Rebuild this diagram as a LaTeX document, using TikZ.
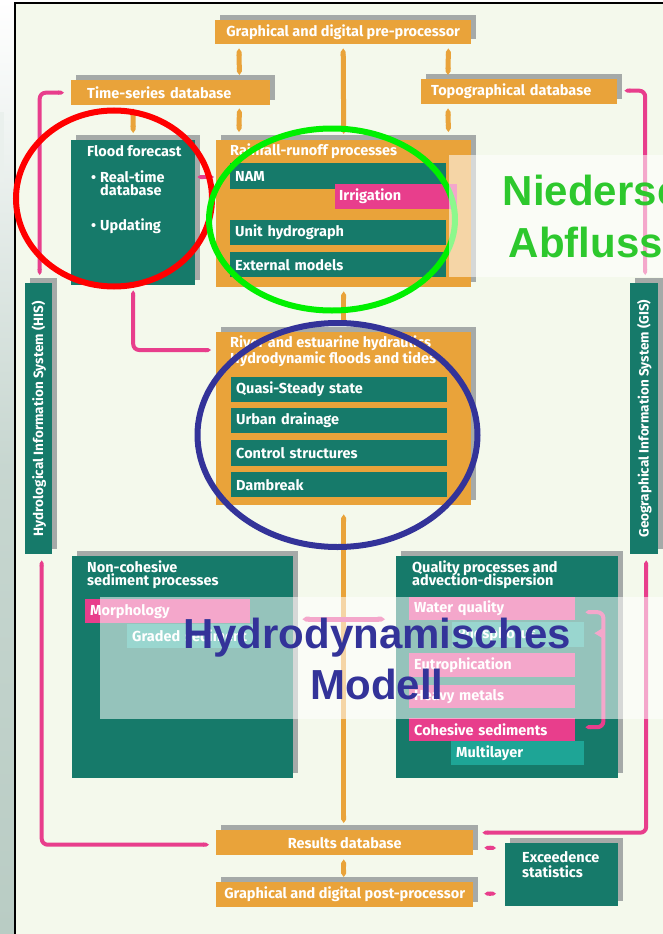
\documentclass[tikz,border=0pt]{standalone}
\usepackage{fontspec}
\setsansfont{Fira Sans}
\newfontfamily\overlayfont{Liberation Sans}
\usepackage{xcolor}
\usepackage{tikz}
\usetikzlibrary{positioning,calc,shadows,arrows.meta}

\definecolor{boxorange}{RGB}{233,163,58}
\definecolor{boxteal}{RGB}{22,122,106}
\definecolor{lightteal}{RGB}{30,165,150}
\definecolor{hotpink}{RGB}{232,62,140}
\definecolor{shadowgray}{RGB}{165,170,168}
\definecolor{paper}{RGB}{244,249,236}
\definecolor{stripgray}{RGB}{185,204,196}
\definecolor{ringblue}{RGB}{51,51,153}
\definecolor{ringgreen}{RGB}{0,240,0}
\definecolor{labelgreen}{RGB}{45,200,45}

\newcommand{\boxtext}{\sffamily\bfseries\fontsize{14.5}{15}\selectfont}
\newcommand{\bartext}{\sffamily\bfseries\fontsize{13.5}{14}\selectfont}
\newcommand{\bigtext}{\overlayfont\bfseries\fontsize{42}{51}\selectfont}

\tikzset{
	mainbox/.style={rectangle, anchor=north west, inner sep=0pt, text=white, font=\boxtext,
		general shadow={fill=shadowgray, shadow xshift=5pt, shadow yshift=5pt}},
	orangebox/.style={mainbox, fill=boxorange},
	tealbox/.style={mainbox, fill=boxteal},
	subbox/.style={rectangle, anchor=north west, inner xsep=5pt, inner ysep=0pt, text width=206pt,
		minimum height=25pt, align=left, text=white, font=\boxtext, fill=boxteal},
	pinkbox/.style={subbox, fill=hotpink},
	tintbox/.style={subbox, fill=lightteal},
	boxlabel/.style={anchor=base west, inner sep=0pt, text=white, font=\boxtext},
	orangelink/.style={draw=boxorange, line width=5pt, {Triangle Cap[cap angle=70]}-{Triangle Cap[cap angle=70]}},
	pinklink/.style={draw=hotpink, line width=4pt, rounded corners=6pt, {Triangle Cap[cap angle=70]}-{Triangle Cap[cap angle=70]}},
	ring/.style={line width=6pt},
	veil/.style={fill=white, opacity=0.55},
}

\begin{document}
\begin{tikzpicture}[x=1pt, y=-1pt]
	\useasboundingbox (0,0) rectangle (663,934);
	\clip (0,0) rectangle (663,934);
	\shade[top color=white, bottom color=stripgray, middle color=stripgray!80] (0,0) rectangle (15,934);
	\fill[white!70!stripgray] (0,112) rectangle (4,182);
	\draw[fill=paper, line width=2pt] (15,3) rectangle (720,960);

	\node[orangebox, minimum width=256pt, minimum height=24pt] (pre) at (215,20) {Graphical and digital pre-processor};
	\node[orangebox, minimum height=25pt, inner xsep=16pt, text width=167pt, align=left] (tsdb) at (71,80) {Time-series database};
	\node[orangebox, minimum height=25pt, inner xsep=10pt, text width=176pt, align=left] (topo) at (421,79) {Topographical database};
	\node[tealbox, minimum width=124pt, minimum height=145pt] (flood) at (71,140) {};
	\node[orangebox, minimum width=255pt, minimum height=147pt] (rain) at (216,140) {};
	\node[tealbox, minimum width=27pt, minimum height=271pt] (his) at (25,283) {};
	\node[tealbox, minimum width=28pt, minimum height=271pt] (gis) at (630,283) {};
	\node[orangebox, minimum width=255pt, minimum height=173pt] (river) at (216,332) {};
	\node[tealbox, minimum width=221pt, minimum height=222pt] (noncoh) at (72,556) {};
	\node[tealbox, minimum width=222pt, minimum height=222pt] (quality) at (396,556) {};
	\node[orangebox, minimum width=257pt, minimum height=25pt] (results) at (216,830) {Results database};
	\node[orangebox, minimum width=257pt, minimum height=25pt] (post) at (216,882) {Graphical and digital post-processor};
	\node[tealbox, minimum width=113pt, minimum height=63pt] (exceed) at (505,843) {};

	\draw[orangelink] ($(pre.south west)+(24,4)$) -- ($(tsdb.north east)+(-31,-5)$);
	\draw[orangelink] ($(pre.south east)+(-23,4)$) -- ($(topo.north west)+(27,-4)$);
	\draw[orangelink] ($(pre.south)+(0,4)$) -- ($(rain.north)+(0,-6)$);
	\draw[orangelink] ($(tsdb.south east)+(-31,3)$) -- ($(rain.north west)+(23,-8)$);
	\draw[orangelink] ($(topo.south west)+(27,4)$) -- ($(rain.north east)+(-23,-8)$);
	\draw[orangelink] ($(tsdb.south west)+(62,3)$) -- ($(flood.north)+(0,-7)$);
	\draw[orangelink] ($(rain.south)+(0,4)$) -- ($(river.north)+(0,-6)$);
	\draw[orangelink] ($(river.south)+(0,9)$) -- ($(results.north)+(-1,-7)$);
	\draw[orangelink] ($(results.south)+(-1,4)$) -- ($(post.north)+(-1,-5)$);

	\draw[pinklink] ($(tsdb.west)+(-7,0)$) -| ($(his.north)+(1,-8)$);
	\draw[pinklink] ($(topo.east)+(7,-1)$) -| ($(gis.north)+(1,-8)$);
	\draw[pinklink] ($(his.south)+(3,6)$) |- ($(results.west)+(-7,2)$);
	\draw[pinklink] ($(gis.south)+(2,6)$) |- ($(results.east)+(9,-10)$);
	\draw[pinklink] ($(flood.south)+(0,5)$) |- ($(river.north west)+(-5,18)$);
	\draw[pinklink] ($(flood.north east)+(2,37)$) -- ($(rain.north west)+(-2,37)$);
	\draw[pinklink] ($(results.east)+(11,5)$) -- ($(exceed.north west)+(-9,5)$);
	\draw[pinklink] ($(post.east)+(11,-1)$) -- ($(exceed.west |- post.east)+(-9,-1)$);
	\draw[pinklink, line width=5pt] ($(noncoh.east)+(9,-48)$) -- ($(quality.west)+(-11,-48)$);

	\node[boxlabel] (floodtitle) at ($(flood.north west)+(16,16)$) {Flood forecast};
	\node[boxlabel] (realtime) at ($(flood.north west)+(20,42)$) {\makebox[9pt][l]{\textbullet}Real-time};
	\node[boxlabel] (realtimedb) at ($(flood.north west)+(29,55)$) {database};
	\node[boxlabel] (updating) at ($(flood.north west)+(20,90)$) {\makebox[9pt][l]{\textbullet}Updating};

	\node[boxlabel] (raintitle) at ($(rain.north west)+(14,15)$) {Rainfall-runoff processes};
	\node[subbox, minimum height=26pt] (nam) at (230,163) {NAM};
	\node[pinkbox, inner xsep=4pt, text width=114pt] (irrig) at (335,184) {Irrigation};
	\node[subbox] (unit) at (230,220) {Unit hydrograph};
	\node[subbox] (extmod) at (230,252) {External models};

	\node[boxlabel, font=\bartext, anchor=center, rotate=90] (histext) at (his.center) {Hydrological Information System (HIS)};
	\node[boxlabel, font=\bartext, anchor=center, rotate=90] (gistext) at (gis.center) {Geographical Information System (GIS)};

	\node[boxlabel] (rivertitle) at ($(river.north west)+(14,15)$) {River and estuarine hydraulics};
	\node[boxlabel] (rivertitleb) at ($(river.north west)+(14,31)$) {Hydrodynamic floods and tides};
	\node[subbox] (quasi) at (231,377) {Quasi-Steady state};
	\node[subbox] (urban) at (231,408) {Urban drainage};
	\node[subbox, minimum height=26pt] (control) at (231,440) {Control structures};
	\node[subbox] (dambreak) at (231,472) {Dambreak};

	\node[boxlabel] (noncohtitle) at ($(noncoh.north west)+(15,16)$) {Non-cohesive};
	\node[boxlabel] (noncohtitleb) at ($(noncoh.north west)+(15,29)$) {sediment processes};
	\node[pinkbox, minimum height=24pt, text width=155pt] (morph) at (85,599) {Morphology};
	\node[tintbox, minimum height=24pt, text width=116pt] (graded) at (127,624) {Graded sediment};

	\node[boxlabel] (qualtitle) at ($(quality.north west)+(16,16)$) {Quality processes and};
	\node[boxlabel] (qualtitleb) at ($(quality.north west)+(16,29)$) {advection-dispersion};
	\node[pinkbox, minimum height=23pt, text width=156pt] (wq) at (409,597) {Water quality};
	\node[tintbox, text width=122pt] (phos) at (452,622) {Phosphorus};
	\node[pinkbox, minimum height=24pt, text width=156pt] (eutro) at (409,653) {Eutrophication};
	\node[pinkbox, minimum height=23pt, text width=156pt] (heavy) at (409,685) {Heavy metals};
	\node[pinkbox, minimum height=23pt, text width=156pt] (cohes) at (409,718) {Cohesive sediments};
	\node[tintbox, minimum height=24pt, text width=123pt] (multi) at (451,741) {Multilayer};
	\draw[pinklink] ($(wq.east)+(10,3.5)$) -- ++(18,0) |- ($(cohes.east)+(10,-2.5)$);
	\fill[hotpink] ($(phos.east)+(19,-7)$) -- ($(phos.east)+(10,-1.5)$) -- ($(phos.east)+(19,4)$) -- cycle;

	\node[boxlabel] (exceedtitle) at ($(exceed.north west)+(17,19)$) {Exceedence};
	\node[boxlabel] (exceedtitleb) at ($(exceed.north west)+(17,34)$) {statistics};

	\draw[ring, red] (114,198.5) ellipse [x radius=98, y radius=88];
	\draw[ring, ringgreen] (332,219.5) ellipse [x radius=123, y radius=91];
	\draw[ring, ringblue] (337.5,435) ellipse [x radius=140, y radius=112];

	\fill[veil] (449,155) rectangle (663,277);
	\fill[veil] (100,597) rectangle (663,719);
	\node[font=\bigtext, text=labelgreen, anchor=base, inner sep=0pt] (nslabel) at (653.5,205) {Niederschlags-};
	\node[font=\bigtext, text=labelgreen, anchor=base, inner sep=0pt] (nslabelb) at (653.5,257) {Abflussmodell};
	\node[font=\bigtext, text=ringblue, anchor=base, inner sep=0pt] (hdlabel) at (377,648) {Hydrodynamisches};
	\node[font=\bigtext, text=ringblue, anchor=base, inner sep=0pt] (hdlabelb) at (377,699) {Modell};
\end{tikzpicture}
\end{document}
